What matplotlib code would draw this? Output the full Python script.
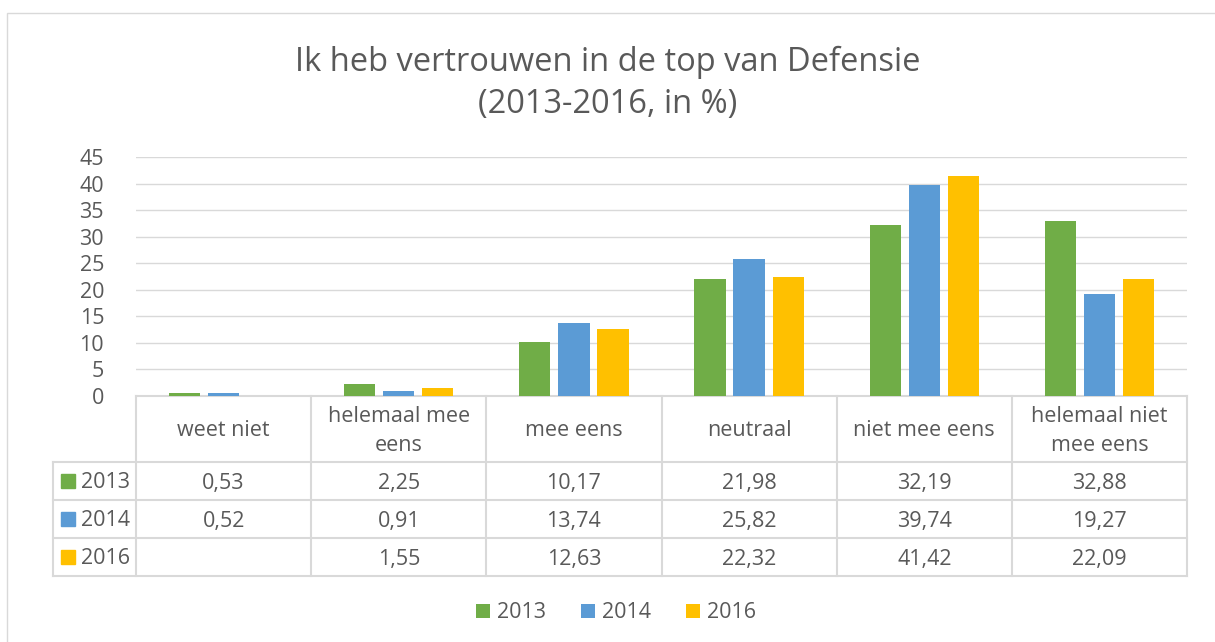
import matplotlib.pyplot as plt
import matplotlib.patches as patches
import matplotlib.transforms as mtransforms
import numpy as np

plt.rcParams['font.family'] = ['Open Sans', 'DejaVu Sans']

categories = ["weet niet", "helemaal mee\neens", "mee eens", "neutraal",
              "niet mee eens", "helemaal niet\nmee eens"]
series = ["2013", "2014", "2016"]
v2013 = [0.53, 2.25, 10.17, 21.98, 32.19, 32.88]
v2014 = [0.52, 0.91, 13.74, 25.82, 39.74, 19.27]
v2016 = [None, 1.55, 12.63, 22.32, 41.42, 22.09]
colors = ['#70AD47', '#5B9BD5', '#FFC000']

W, H = 1215, 642
fig = plt.figure(figsize=(W / 100, H / 100), dpi=100)
txt = '#595959'
line_c = '#D9D9D9'
fs = 15.5

def fy(py):
    return 1 - py / H

def fx(px):
    return px / W

# outer chart border
fig.patches.append(patches.Rectangle((fx(7), fy(700)), 1.2, fy(13) - fy(700),
                                     transform=fig.transFigure, fill=False,
                                     edgecolor=line_c, linewidth=1))

ax = fig.add_axes([fx(136), fy(396), fx(1187) - fx(136), fy(157) - fy(396)])
x = np.arange(len(categories))
offs = [-0.223, 0, 0.223]
for vals, off, c, lab in zip([v2013, v2014, v2016], offs, colors, series):
    h = [np.nan if v is None else v for v in vals]
    ax.bar(x + off, h, width=0.178, color=c, label=lab, zorder=3)

ax.set_xlim(-0.5, len(categories) - 0.5)
ax.set_ylim(0, 45)
ax.set_yticks(range(0, 46, 5))
ax.tick_params(axis='y', length=0, pad=23, labelsize=fs, labelcolor=txt)
ax.set_xticks([])
ax.grid(axis='y', color=line_c, linewidth=1, zorder=0)
for s in ax.spines.values():
    s.set_visible(False)

fig.text(0.5, fy(62), "Ik heb vertrouwen in de top van Defensie", ha='center', va='center',
         fontsize=23.5, color=txt)
fig.text(0.5, fy(105), "(2013-2016, in %)", ha='center', va='center',
         fontsize=23.5, color=txt)

# data table
bt = mtransforms.blended_transform_factory(ax.transData, fig.transFigure)
rows_y = [396, 462, 500, 538, 576]
left_px = 53
xl = -0.5 - (136 - left_px) / (1187 - 136) * len(categories)
kw = dict(color=line_c, linewidth=1.5, clip_on=False)
ax.plot([-0.5, len(categories) - 0.5], [fy(396)] * 2, transform=bt, **kw)
for ry in rows_y[1:]:
    ax.plot([xl, len(categories) - 0.5], [fy(ry)] * 2, transform=bt, **kw)
for i in range(len(categories) + 1):
    ax.plot([i - 0.5] * 2, [fy(396), fy(576)], transform=bt, **kw)
ax.plot([xl] * 2, [fy(462), fy(576)], transform=bt, **kw)

for i, cat in enumerate(categories):
    ax.text(i, fy(431), cat, transform=bt, ha='center', va='center',
            fontsize=fs, color=txt, linespacing=1.5)
for r, (vals, c, lab) in enumerate(zip([v2013, v2014, v2016], colors, series)):
    cy = (rows_y[r + 1] + rows_y[r + 2]) / 2
    fig.patches.append(patches.Rectangle((fx(61), fy(cy + 7)), fx(14), fy(cy - 7) - fy(cy + 7),
                                         transform=fig.transFigure, color=c))
    fig.text(fx(81), fy(cy + 2), lab, ha='left', va='center', fontsize=fs, color=txt)
    for i, v in enumerate(vals):
        if v is not None:
            ax.text(i, fy(cy + 2), f"{v:.2f}".replace('.', ','), transform=bt,
                    ha='center', va='center', fontsize=fs, color=txt)

ax.legend(loc='center', bbox_to_anchor=(fx(616), fy(613)), bbox_transform=fig.transFigure,
          ncol=3, frameon=False, fontsize=fs, labelcolor=txt, handlelength=0.65,
          handleheight=0.65, handletextpad=0.35, columnspacing=1.6)

fig.savefig('out.png', dpi=100)
